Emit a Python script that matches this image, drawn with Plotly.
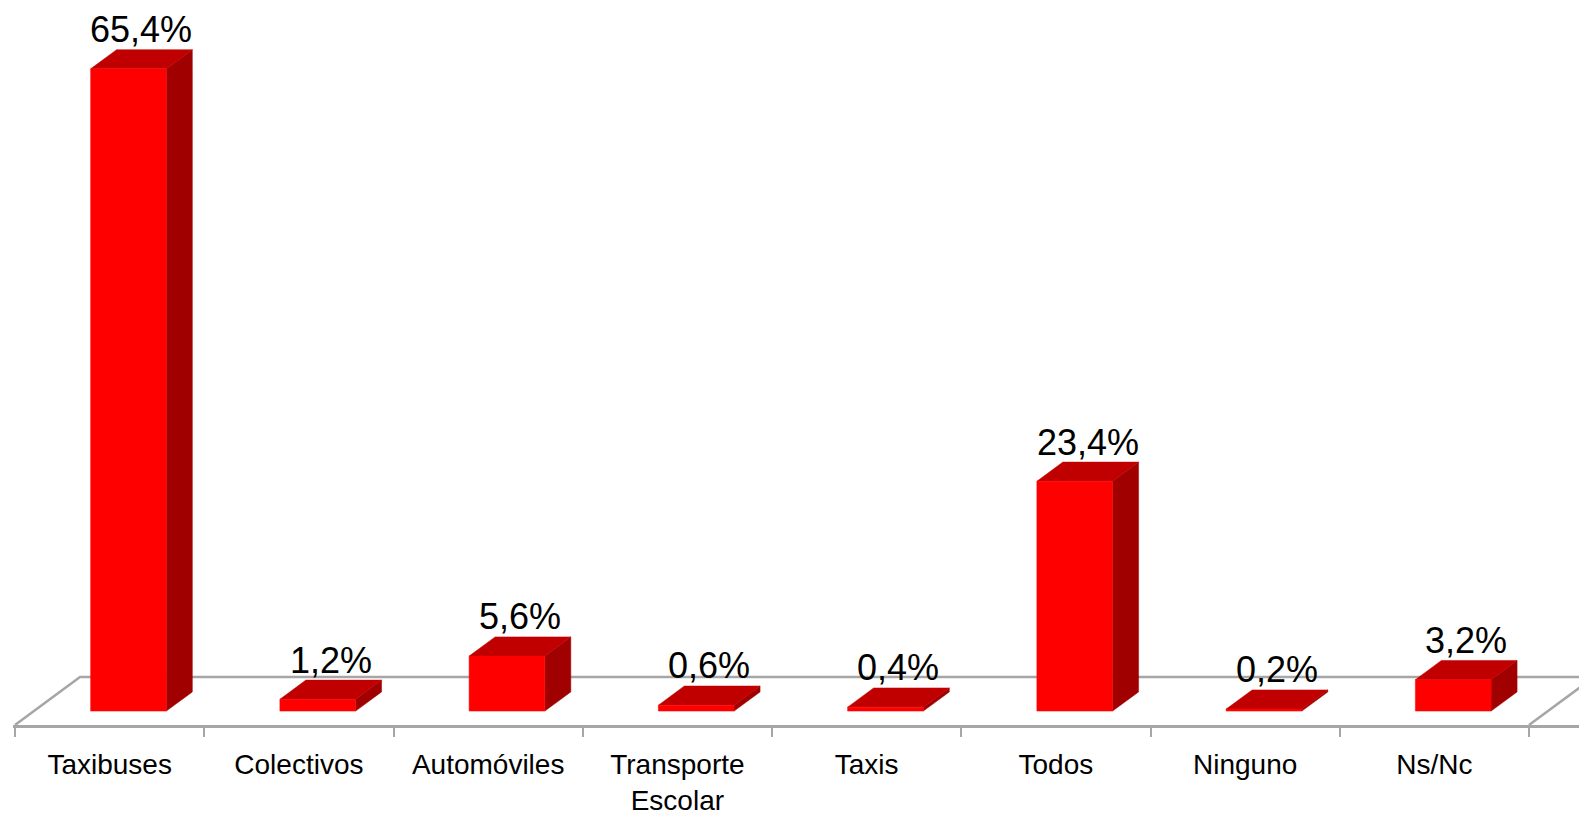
import plotly.graph_objects as go

# ---- data ----
categories = ["Taxibuses", "Colectivos", "Automóviles", "Transporte<br>Escolar",
              "Taxis", "Todos", "Ninguno", "Ns/Nc"]
values = [65.4, 1.2, 5.6, 0.6, 0.4, 23.4, 0.2, 3.2]

# ---- geometry (pixel scale of the reference) ----
PAGE = 8                      # default body margin of the html page
W, H = 1587 - PAGE, 817 - PAGE
PX_CAT = 189.25               # px per category
PX_PCT = 9.82                 # px per percent
FLOOR_LEFT = 15 - PAGE        # figure px of floor front-left corner
FLOOR_Y = 725 - PAGE          # figure px of floor front edge
ML, MR, MT = 5, 0, 0
MB = H - FLOOR_Y
plot_w = W - ML - MR
plot_h = H - MT - MB
x0 = -(FLOOR_LEFT - ML) / PX_CAT
xr = [x0, x0 + plot_w / PX_CAT]
yr = [0, plot_h / PX_PCT]

DX = 65 / PX_CAT      # floor depth in x units
DY = 48 / PX_PCT      # floor depth in y units
D0, D1 = 0.29, 0.69   # bar depth span (fraction of floor depth)
BW = 0.40             # bar width (category units)

FRONT = "#FF0000"
TOP = "#C00000"
SIDE = "#A00000"
GRID = "#A6A6A6"
FONT = "Arial, Liberation Sans, sans-serif"

fig = go.Figure()

n = len(categories)
# floor (sides and back edge; front edge = x axis line)
fig.add_trace(go.Scatter(
    x=[0, DX, n + DX, n],
    y=[0, DY, DY, 0],
    mode="lines", line=dict(color=GRID, width=2.5),
    hoverinfo="skip"))

annotations = []
for i, (c, v) in enumerate(zip(categories, values)):
    xl = i + 0.5 - BW / 2 + D0 * DX
    xrr = xl + BW
    base = D0 * DY
    top = base + v
    bdx = (D1 - D0) * DX
    bdy = (D1 - D0) * DY
    # side face
    fig.add_trace(go.Scatter(
        x=[xrr, xrr, xrr + bdx, xrr + bdx, xrr],
        y=[base, top, top + bdy, base + bdy, base],
        fill="toself", fillcolor=SIDE, mode="lines",
        line=dict(color=SIDE, width=0.5), hoverinfo="skip"))
    # top face
    fig.add_trace(go.Scatter(
        x=[xl, xrr, xrr + bdx, xl + bdx, xl],
        y=[top, top, top + bdy, top + bdy, top],
        fill="toself", fillcolor=TOP, mode="lines",
        line=dict(color=TOP, width=0.5), hoverinfo="skip"))
    # front face
    fig.add_trace(go.Scatter(
        x=[xl, xrr, xrr, xl, xl],
        y=[base, base, top, top, base],
        fill="toself", fillcolor=FRONT, mode="lines",
        line=dict(color=FRONT, width=0.5), hoverinfo="skip"))
    annotations.append(dict(
        x=xl + (BW + bdx) / 2, y=top + bdy, xref="x", yref="y",
        text=f"{v:.1f}".replace(".", ",") + "%",
        showarrow=False, yanchor="middle", yshift=20,
        font=dict(family=FONT, size=36, color="black")))

# invisible trace so the label axis is drawn
fig.add_trace(go.Scatter(x=[i + 0.5 for i in range(n)], y=[0] * n, xaxis="x2",
                         mode="markers", marker=dict(opacity=0), hoverinfo="skip"))

fig.update_layout(
    width=W, height=H,
    margin=dict(l=ML, r=MR, t=MT, b=MB, autoexpand=False),
    paper_bgcolor="white", plot_bgcolor="white",
    showlegend=False,
    annotations=annotations,
    xaxis=dict(range=xr, tickvals=list(range(n + 1)), showticklabels=False,
               ticks="outside", ticklen=9, tickwidth=2, tickcolor=GRID,
               showline=True, linecolor=GRID, linewidth=2.5,
               showgrid=False, zeroline=False, fixedrange=True),
    xaxis2=dict(range=xr, overlaying="x", anchor="y", side="bottom",
                tickvals=[i + 0.5 for i in range(n)], ticktext=categories,
                ticks="", showline=False, showgrid=False, zeroline=False,
                ticklabelstandoff=20, fixedrange=True,
                tickfont=dict(family=FONT, size=28, color="black")),
    yaxis=dict(range=yr, visible=False, fixedrange=True),
)

fig.write_html("out.html")
